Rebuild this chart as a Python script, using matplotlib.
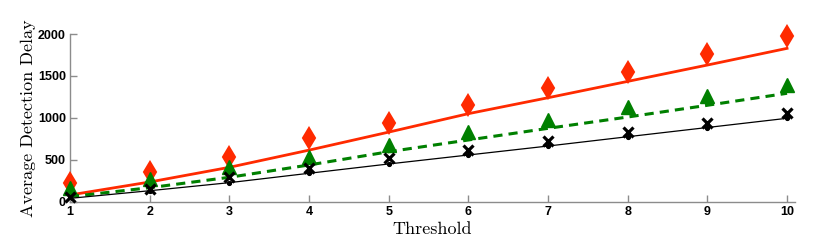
import matplotlib
matplotlib.use("Agg")
import matplotlib.pyplot as plt

# thresholds
threshold = [1, 2, 3, 4, 5, 6, 7, 8, 9, 10]

# simulated delays (markers)
red_sim   = [219, 358, 537, 756, 943, 1153, 1352, 1543, 1758, 1980]
green_sim = [160, 271, 410, 537, 676, 827, 974, 1126, 1260, 1392]
black_sim = [60, 151, 298, 398, 518, 617, 727, 835, 935, 1061]

# analytic curves (lines)
red_line   = [80, 235, 410, 615, 830, 1050, 1240, 1435, 1630, 1829]
green_line = [60, 167, 291, 438, 596, 736, 875, 1010, 1150, 1293]
black_line = [40, 131, 227, 339, 450, 557, 664, 775, 885, 995]

RED   = "#ff2a00"
GREEN = "#008000"
GRAY  = "#8c8c8c"

fig = plt.figure(figsize=(8.31, 2.52), dpi=100)
ax = fig.add_axes([0.0842, 0.1996, 0.9567 - 0.0842, 0.865 - 0.1996])

ax.plot(threshold, red_line, color=RED, lw=2.0, zorder=2)
ax.plot(threshold, green_line, color=GREEN, lw=2.2, ls=(0, (3, 2)), zorder=2)
ax.plot(threshold, black_line, color="black", lw=0.9, marker=".", ms=5.5, zorder=2)

ax.plot(threshold, red_sim, ls="none", marker="d", ms=10.5, mew=1.5, color=RED,
        zorder=3, clip_on=False)
ax.plot(threshold, green_sim, ls="none", marker="^", ms=9.5, color=GREEN,
        zorder=4, clip_on=False)
ax.plot(threshold, black_sim, ls="none", marker="x", ms=7, mew=2.3, color="black",
        zorder=5, clip_on=False)

ax.set_xlim(1, 10.1)
ax.set_ylim(0, 2000)
ax.set_xticks(threshold)
ax.set_yticks([0, 500, 1000, 1500, 2000])

for side in ("top", "right"):
    ax.spines[side].set_visible(False)
for side in ("left", "bottom"):
    ax.spines[side].set_color(GRAY)
    ax.spines[side].set_linewidth(1.0)

ax.tick_params(direction="in", length=5, width=1.0, color=GRAY, pad=3)
for lab in ax.get_xticklabels() + ax.get_yticklabels():
    lab.set_fontweight("bold")
    lab.set_fontsize(9)
    lab.set_fontfamily("Liberation Sans")

ax.set_xlabel("Threshold", fontname="cmr10", fontsize=13, labelpad=2.5)
ax.set_ylabel("Average Detection Delay", fontname="cmr10", fontsize=13, labelpad=1)

fig.savefig("out.png", dpi=100)
